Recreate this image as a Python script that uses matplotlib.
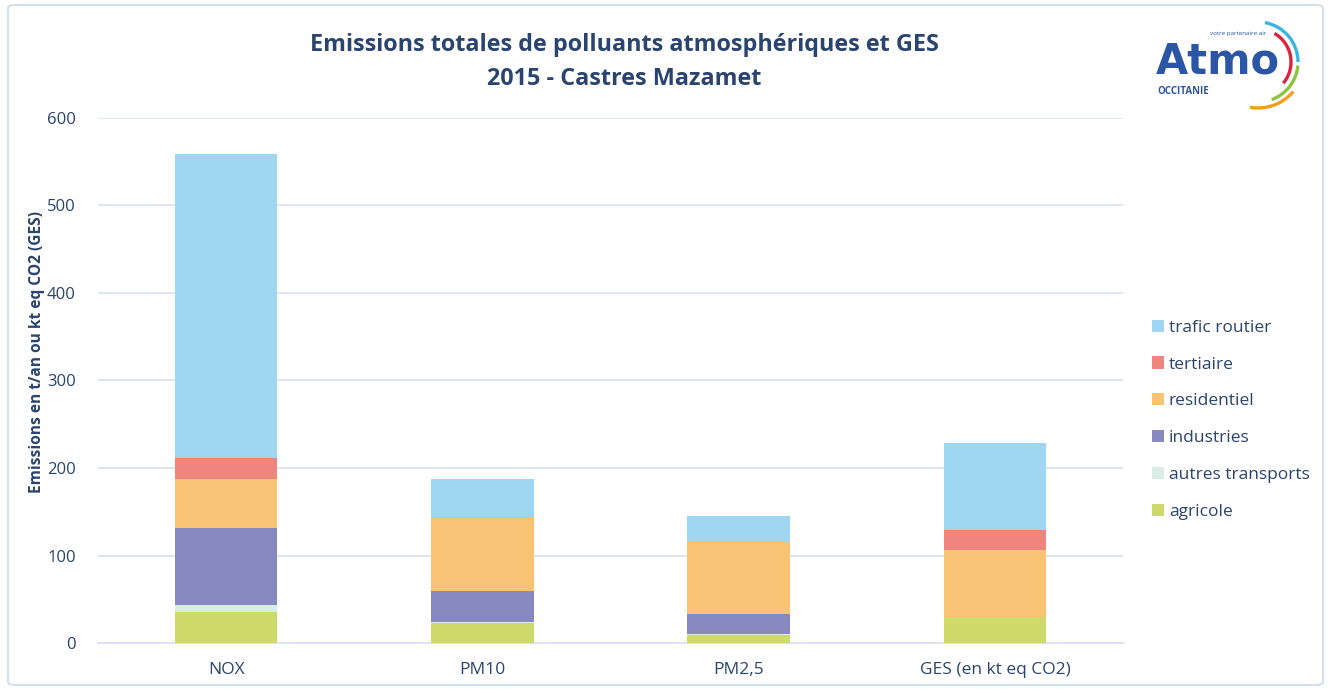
import matplotlib
matplotlib.use("Agg")
import matplotlib.pyplot as plt
import numpy as np
from matplotlib.patches import Arc, FancyBboxPatch

categories = ["NOX", "PM10", "PM2,5", "GES (en kt eq CO2)"]
sectors = ["agricole", "autres transports", "industries", "residentiel", "tertiaire", "trafic routier"]
agricole = [36, 23, 9, 30]
autres_transports = [7, 1, 1, 0]
industries = [88, 35, 23, 0]
residentiel = [56, 85, 83, 76]
tertiaire = [25, 0, 0, 23]
trafic_routier = [347, 44, 29, 100]
yticks = [0, 100, 200, 300, 400, 500, 600]

colors = ["#CDDA6A", "#D6EEE5", "#8789C0", "#F8C374", "#F08580", "#9FD7F2"]
text_col = "#2A4470"
font = "Open Sans"

fig = plt.figure(figsize=(13.31, 6.90), dpi=100)
fig.patch.set_facecolor("white")
# outer border
fig.patches.append(FancyBboxPatch((8/1331, 5/690), 1315/1331, 680/690,
                                  boxstyle="round,pad=0,rounding_size=0.005",
                                  transform=fig.transFigure, fill=False,
                                  edgecolor="#D5DEEB", linewidth=1.5))

ax = fig.add_axes([98/1331, 1 - 643/690, (1123 - 98)/1331, (643 - 118)/690])
x = np.arange(len(categories))
series = [agricole, autres_transports, industries, residentiel, tertiaire, trafic_routier]
bottom = np.zeros(len(categories))
bars = []
for vals, col, name in zip(series, colors, sectors):
    b = ax.bar(x, vals, width=0.4, bottom=bottom, color=col, label=name, zorder=3)
    bars.append(b)
    bottom += np.array(vals)

ax.set_xlim(-0.5, 3.5)
ax.set_ylim(0, 600)
ax.set_yticks(yticks)
ax.set_yticklabels([str(t) for t in yticks], fontsize=12, color=text_col, family=font)
ax.set_xticks(x)
ax.set_xticklabels(categories, fontsize=12.5, color=text_col, family=font)
ax.tick_params(axis="y", length=0, pad=16)
ax.tick_params(axis="x", length=0, pad=14)
ax.grid(axis="y", color="#D9E1F0", linewidth=1.2, zorder=0)
for s in ["left", "right", "top"]:
    ax.spines[s].set_visible(False)
ax.spines["bottom"].set_color("#D9E1F0")
ax.spines["bottom"].set_linewidth(1.2)

fig.text(37/1331, 1 - 352/690, "Emissions en t/an ou kt eq CO2 (GES)", rotation=90,
         ha="center", va="center", fontsize=11.2, fontweight="bold", color=text_col, family=font)

fig.text(624/1331, 1 - 45/690, "Emissions totales de polluants atmosphériques et GES",
         ha="center", va="center", fontsize=16.8, fontweight="bold", color=text_col, family=font)
fig.text(624/1331, 1 - 79/690, "2015 - Castres Mazamet",
         ha="center", va="center", fontsize=16.8, fontweight="bold", color=text_col, family=font)

handles = [bars[i] for i in range(len(bars) - 1, -1, -1)]
labels = [sectors[i] for i in range(len(sectors) - 1, -1, -1)]
leg = fig.legend(handles, labels, loc="upper left", bbox_to_anchor=(1136/1331, 1 - 304/690),
                 frameon=False, handlelength=0.7, handleheight=0.7, handletextpad=0.3,
                 labelspacing=1.19, prop={"family": font, "size": 12.5})
for t in leg.get_texts():
    t.set_color(text_col)

# logo
logo_col = "#2B56A6"
fig.text(1156/1331, 1 - 74/690, "Atmo", ha="left", va="baseline", fontsize=30,
         fontweight="bold", color=logo_col, family="DejaVu Sans")
fig.text(1210/1331, 1 - 33/690, "votre partenaire air", ha="left", va="center", fontsize=4.5,
         color=logo_col, family=font)
fig.text(1157/1331, 1 - 92/690, "OCCITANIE", ha="left", va="center", fontsize=7,
         fontweight="bold", color=logo_col, family=font)
lax = fig.add_axes([1200/1331, 1 - 120/690, 120/1331, 110/690])
lax.set_xlim(1200, 1320)
lax.set_ylim(120, 10)
lax.set_aspect("equal")
lax.axis("off")
arc_specs = [("#3BB6E3", 40, -80, 0), ("#D7263D", 33, -60, 40), ("#8CC63F", 40, 5, 70),
             ("#F29F1C", 46, 40, 100)]
for col, r, t1, t2 in arc_specs:
    lax.add_patch(Arc((1258, 62), 2 * r, 2 * r, theta1=t1, theta2=t2, color=col, lw=2.4))

fig.savefig("out.png", dpi=100, facecolor="white")
